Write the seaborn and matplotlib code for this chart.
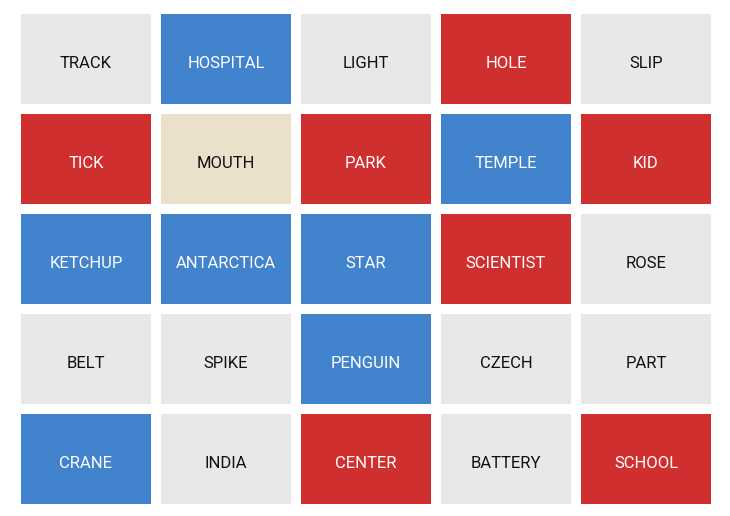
import matplotlib
matplotlib.use("Agg")
import matplotlib.pyplot as plt
import seaborn as sns
import numpy as np
from matplotlib.colors import ListedColormap

words = [
    ["TRACK", "HOSPITAL", "LIGHT", "HOLE", "SLIP"],
    ["TICK", "MOUTH", "PARK", "TEMPLE", "KID"],
    ["KETCHUP", "ANTARCTICA", "STAR", "SCIENTIST", "ROSE"],
    ["BELT", "SPIKE", "PENGUIN", "CZECH", "PART"],
    ["CRANE", "INDIA", "CENTER", "BATTERY", "SCHOOL"],
]
# 0 neutral, 1 blue, 2 red, 3 assassin
teams = [
    [0, 1, 0, 2, 0],
    [2, 3, 2, 1, 2],
    [1, 1, 1, 2, 0],
    [0, 0, 1, 0, 0],
    [1, 0, 2, 0, 2],
]
palette = ["#e8e8e8", "#4183cc", "#d02f2f", "#ebe1cb"]
text_colors = ["#111111", "#ffffff", "#ffffff", "#111111"]

plt.rcParams['font.family'] = ['Roboto', 'DejaVu Sans']
fig = plt.figure(figsize=(7.3, 5.16), dpi=100)
ax = fig.add_axes([16/730, 1 - 509/516, 700/730, 500/516])
data = np.array(teams)
sns.heatmap(data, ax=ax, cmap=ListedColormap(palette), vmin=-0.5, vmax=3.5,
            cbar=False, annot=np.array(words), fmt="",
            annot_kws={"fontsize": 12, "fontfamily": ["Roboto", "DejaVu Sans"]},
            linewidths=7.2, linecolor="white", xticklabels=False, yticklabels=False)
flat = data.flatten()
for t, k in zip(ax.texts, flat):
    t.set_color(text_colors[k])
    x, y = t.get_position()
    t.set_position((x, y + 0.04))
ax.set_xlabel("")
ax.set_ylabel("")
for s in ax.spines.values():
    s.set_visible(False)
fig.savefig("out.png", dpi=100, facecolor="white")
